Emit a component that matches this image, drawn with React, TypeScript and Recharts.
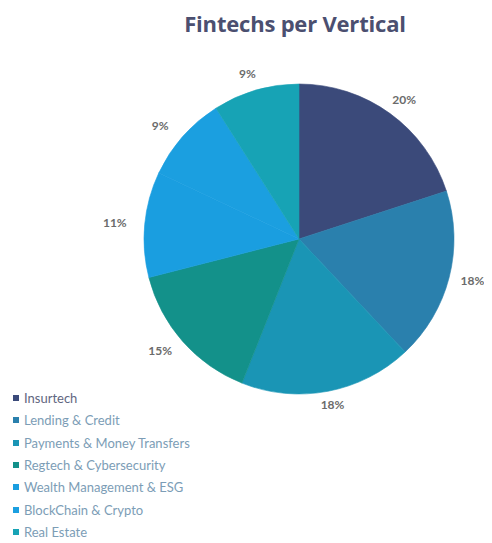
import React from 'react';
import { PieChart, Pie, Cell, Legend } from 'recharts';

const categories = [
    'Insurtech',
    'Lending & Credit',
    'Payments & Money Transfers',
    'Regtech & Cybersecurity',
    'Wealth Management & ESG',
    'BlockChain & Crypto',
    'Real Estate',
];
const shares = [20, 18, 18, 15, 11, 9, 9];
const colors = ['#3b4a7a', '#2a80ad', '#1a95b5', '#13918a', '#1a9ee0', '#1b9fe0', '#17a3b5'];

const data = categories.map((name, i) => ({ name, value: shares[i] }));

const RAD = Math.PI / 180;

const renderLabel = (props: any) => {
    const { cx, cy, midAngle, outerRadius, value } = props;
    const cos = Math.cos(-midAngle * RAD);
    const sin = Math.sin(-midAngle * RAD);
    // outside end, box pushed off the rim
    const r = outerRadius + 10;
    const x = cx + r * cos + (cos < 0 ? 20 : 14) * cos;
    const y = cy + r * sin + (sin > 0 ? 3 : 7) * sin;
    return (
        <text
            x={x}
            y={y}
            textAnchor="middle"
            dominantBaseline="central"
            fill="#6b6b6b"
            fontFamily="Lato, sans-serif"
            fontWeight={700}
            fontSize={12}
        >
            {value}%
        </text>
    );
};

const renderLegend = () => (
    <div style={{ fontFamily: 'Lato, sans-serif', fontSize: 13 }}>
        {categories.map((name, i) => (
            <div key={name} style={{ display: 'flex', alignItems: 'center', height: 22.3 }}>
                <span style={{ width: 6, height: 6, background: colors[i], marginRight: 5, display: 'inline-block' }} />
                <span style={{ color: i === 0 ? '#5f6680' : '#7c9db6' }}>{name}</span>
            </div>
        ))}
    </div>
);

export default function App() {
    return (
        <div style={{ position: 'relative', width: 484, height: 535, background: '#fff' }}>
            <div
                style={{
                    position: 'absolute',
                    left: 0,
                    width: 574,
                    top: 0,
                    textAlign: 'center',
                    fontFamily: '"Open Sans", sans-serif',
                    fontWeight: 700,
                    fontSize: 22,
                    color: '#4b4f70',
                    letterSpacing: -0.2,
                }}
            >
                Fintechs per Vertical
            </div>
            <PieChart width={484} height={535}>
                <Pie
                    data={data}
                    dataKey="value"
                    nameKey="name"
                    cx={286}
                    cy={226}
                    outerRadius={155}
                    startAngle={90}
                    endAngle={-270}
                    label={renderLabel}
                    labelLine={false}
                    isAnimationActive={false}
                >
                    {data.map((d, i) => (
                        <Cell key={d.name} fill={colors[i]} stroke={colors[i]} strokeWidth={0.6} />
                    ))}
                </Pie>
                <Legend
                    content={renderLegend}
                    wrapperStyle={{ left: 5, top: 379, width: 260, bottom: 'auto' }}
                />
            </PieChart>
        </div>
    );
}
